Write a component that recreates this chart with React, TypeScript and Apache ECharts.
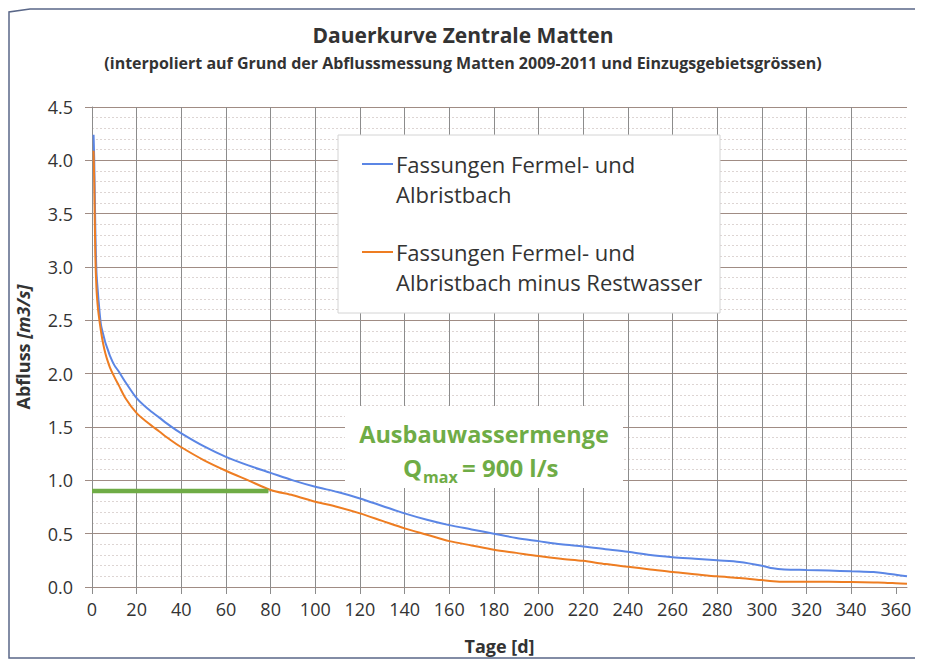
import React, { useEffect, useRef } from "react";
import * as echarts from "echarts";

const days = [0.7, 1, 1.5, 2, 2.5, 3, 4, 5, 6, 7, 8, 10, 12, 15, 20, 25, 30, 35, 40, 50, 60, 70, 80, 90, 100, 110, 120, 130, 140, 150, 160, 170, 180, 190, 200, 210, 220, 230, 240, 250, 260, 270, 280, 290, 300, 305, 310, 320, 330, 340, 350, 355, 360, 365];
const fassungen = [4.24, 4.0, 3.35, 2.95, 2.8, 2.67, 2.46, 2.37, 2.29, 2.23, 2.17, 2.08, 2.02, 1.92, 1.77, 1.67, 1.59, 1.51, 1.44, 1.32, 1.22, 1.14, 1.07, 1.0, 0.94, 0.89, 0.83, 0.76, 0.69, 0.63, 0.58, 0.54, 0.5, 0.46, 0.43, 0.4, 0.38, 0.355, 0.33, 0.3, 0.28, 0.265, 0.25, 0.235, 0.2, 0.175, 0.165, 0.16, 0.155, 0.147, 0.14, 0.13, 0.115, 0.1];
const minusRestwasser = [4.09, 3.8, 3.1, 2.8, 2.65, 2.55, 2.4, 2.28, 2.19, 2.12, 2.06, 1.97, 1.89, 1.77, 1.63, 1.54, 1.46, 1.38, 1.31, 1.19, 1.09, 1.0, 0.91, 0.86, 0.8, 0.75, 0.69, 0.62, 0.55, 0.49, 0.43, 0.39, 0.35, 0.32, 0.29, 0.265, 0.245, 0.215, 0.19, 0.165, 0.14, 0.12, 0.1, 0.085, 0.065, 0.055, 0.05, 0.05, 0.05, 0.047, 0.042, 0.04, 0.035, 0.03];
const ausbauDays = [0, 79];
const ausbauValue = 0.9;
const xTicks = [0, 20, 40, 60, 80, 100, 120, 140, 160, 180, 200, 220, 240, 260, 280, 300, 320, 340, 360];

const seriesNames = [
  "Fassungen Fermel- und Albristbach",
  "Fassungen Fermel- und Albristbach minus Restwasser",
];
const legendLines = [
  ["Fassungen Fermel- und", "Albristbach"],
  ["Fassungen Fermel- und", "Albristbach minus Restwasser"],
];

const FONT = "Open Sans";
const BLUE = "#5b86e5";
const ORANGE = "#ee7d22";
const GREEN = "#6fac46";

export default function App() {
  const ref = useRef<HTMLDivElement>(null);
  useEffect(() => {
    document.body.style.margin = "0";
    const chart = echarts.init(ref.current!, undefined, { renderer: "svg" });
    const legendGraphics: any[] = [
      {
        type: "rect",
        shape: { x: 338, y: 135, width: 382, height: 178 },
        style: { fill: "#fff", stroke: "#d4d4d4", lineWidth: 1 },
        z: 10,
      },
    ];
    const legendY = [164, 252];
    legendLines.forEach((lines, i) => {
      legendGraphics.push({
        type: "line",
        shape: { x1: 362, y1: legendY[i], x2: 393, y2: legendY[i] },
        style: { stroke: i === 0 ? BLUE : ORANGE, lineWidth: 2 },
        z: 11,
      });
      lines.forEach((t, j) => {
        legendGraphics.push({
          type: "text",
          x: 396,
          y: legendY[i] + j * 30,
          style: {
            text: t,
            fontFamily: FONT,
            fontSize: 22,
            fill: "#333",
            verticalAlign: "middle",
          },
          z: 11,
        });
      });
    });

    const option: any = {
      animation: false,
      backgroundColor: "#fff",
      title: {
        text: "Dauerkurve Zentrale Matten",
        subtext: "(interpoliert auf Grund der Abflussmessung Matten 2009-2011 und Einzugsgebietsgrössen)",
        left: "center",
        top: 19,
        itemGap: 10,
        textStyle: { fontFamily: FONT, fontSize: 21, fontWeight: "bold", color: "#333" },
        subtextStyle: { fontFamily: FONT, fontSize: 16, fontWeight: "bold", color: "#333" },
      },
      grid: { left: 92, right: 19, top: 107, bottom: 78, containLabel: false },
      xAxis: {
        type: "value",
        min: 0,
        max: 365,
        interval: 20,
        name: "Tage [d]",
        nameLocation: "middle",
        nameGap: 50,
        nameTextStyle: { fontFamily: FONT, fontSize: 18, fontWeight: "bold", color: "#333" },
        axisLine: { show: true, lineStyle: { color: "#a08c84", width: 1 } },
        axisTick: { show: true, length: 7, lineStyle: { color: "#8c8c8c" }, customValues: xTicks },
        axisLabel: {
          fontFamily: FONT,
          fontSize: 18,
          color: "#333",
          margin: 13,
          customValues: xTicks,
        },
        splitLine: { show: true, showMaxLine: false, lineStyle: { color: "#8c8c8c", width: 1 } },
      },
      yAxis: {
        type: "value",
        min: 0,
        max: 4.5,
        interval: 0.5,
        name: "{b|Abfluss }{i|[m3/s]}",
        nameLocation: "middle",
        nameGap: 60,
        nameRotate: 90,
        nameTextStyle: {
          fontFamily: FONT,
          fontSize: 18,
          fontWeight: "bold",
          color: "#333",
          rich: {
            b: { fontFamily: FONT, fontSize: 18, fontWeight: "bold", color: "#333" },
            i: { fontFamily: FONT, fontSize: 18, fontWeight: "bold", fontStyle: "italic", color: "#333" },
          },
        },
        axisLine: { show: true, lineStyle: { color: "#8c8c8c", width: 1 } },
        axisTick: { show: true, length: 7, lineStyle: { color: "#a08c84" } },
        axisLabel: {
          fontFamily: FONT,
          fontSize: 18,
          color: "#333",
          margin: 19,
          formatter: (v: number) => v.toFixed(1),
        },
        splitLine: { show: true, lineStyle: { color: "#a08c84", width: 1 } },
        minorTick: { show: false, splitNumber: 5 },
        minorSplitLine: { show: true, lineStyle: { color: "#ddd5d3", type: [2, 2], width: 1 } },
      },
      series: [
        {
          name: seriesNames[0],
          type: "line",
          data: days.map((d, i) => [d, fassungen[i]]),
          showSymbol: false,
          smooth: 0.3,
          lineStyle: { color: BLUE, width: 2 },
          itemStyle: { color: BLUE },
          z: 3,
        },
        {
          name: seriesNames[1],
          type: "line",
          data: days.map((d, i) => [d, minusRestwasser[i]]),
          showSymbol: false,
          smooth: 0.3,
          lineStyle: { color: ORANGE, width: 2 },
          itemStyle: { color: ORANGE },
          z: 4,
        },
        {
          name: "Ausbauwassermenge",
          type: "line",
          data: ausbauDays.map((d) => [d, ausbauValue]),
          showSymbol: false,
          lineStyle: { color: GREEN, width: 4.5 },
          itemStyle: { color: GREEN },
          z: 5,
        },
      ],
      graphic: [
        ...legendGraphics,
        {
          type: "rect",
          shape: { x: 345, y: 406, width: 278, height: 82 },
          style: { fill: "#fff" },
          z: 10,
        },
        {
          type: "text",
          x: 484,
          y: 434,
          style: {
            text: "Ausbauwassermenge",
            fontFamily: FONT,
            fontSize: 23.5,
            fontWeight: "bold",
            fill: GREEN,
            align: "center",
            verticalAlign: "middle",
          },
          z: 11,
        },
        {
          type: "text",
          x: 403,
          y: 467,
          style: { text: "Q", fontFamily: FONT, fontSize: 24, fontWeight: "bold", fill: GREEN, verticalAlign: "middle" },
          z: 11,
        },
        {
          type: "text",
          x: 423,
          y: 477,
          style: { text: "max", fontFamily: FONT, fontSize: 16, fontWeight: "bold", fill: GREEN, verticalAlign: "middle" },
          z: 11,
        },
        {
          type: "text",
          x: 462,
          y: 467,
          style: { text: "= 900 l/s", fontFamily: FONT, fontSize: 24, fontWeight: "bold", fill: GREEN, verticalAlign: "middle" },
          z: 11,
        },
        {
          type: "polyline",
          shape: { points: [[915, 9], [30, 9], [9, 12], [9, 658], [915, 658]] },
          style: { fill: "none", stroke: "#5a6788", lineWidth: 1.5 },
          z: 20,
          silent: true,
        },
      ],
    };
    chart.setOption(option);
    return () => chart.dispose();
  }, []);
  return <div ref={ref} style={{ width: 926, height: 665 }} />;
}
